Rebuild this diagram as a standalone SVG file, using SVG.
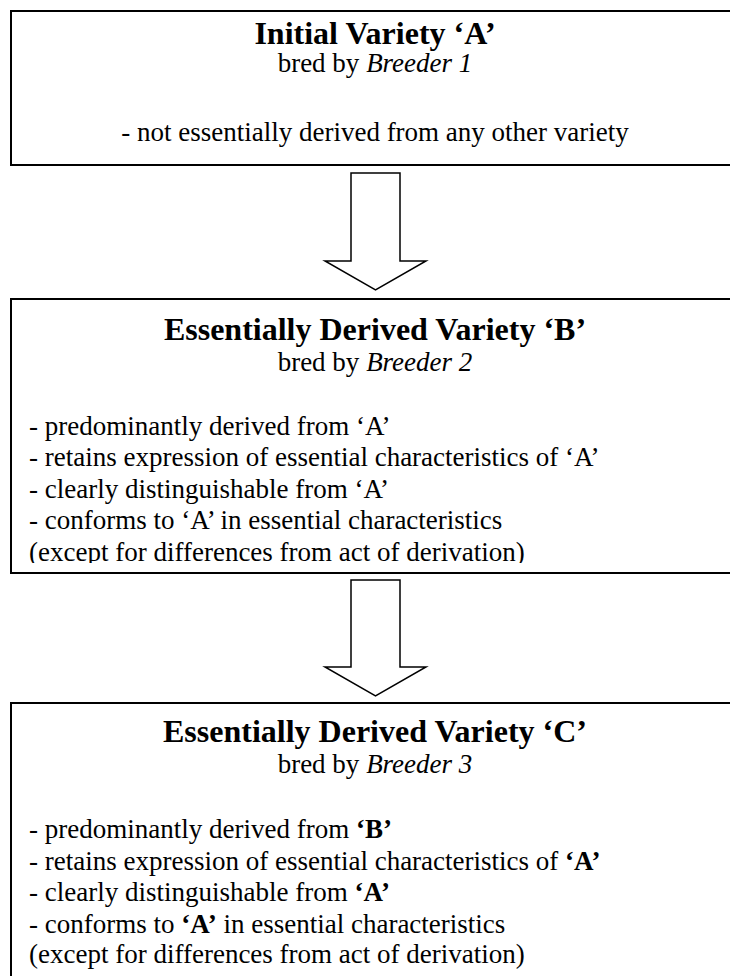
<svg xmlns="http://www.w3.org/2000/svg" width="730" height="976" viewBox="0 0 730 976">
<style>
.box{fill:#fff;stroke:#000;stroke-width:2}
.arrow{fill:#fff;stroke:#000;stroke-width:1.5;stroke-linejoin:miter}
text{font-family:"Liberation Serif","Times New Roman",serif;fill:#000}
.t{font-size:32px;font-weight:bold;text-anchor:middle}
.s{font-size:27px;text-anchor:middle}
.b{font-size:27px}
.i{font-style:italic}
.k{font-weight:bold}
</style>
<defs>
<clipPath id="clipB"><rect x="0" y="299" width="730" height="264"/></clipPath>
</defs>
<rect width="730" height="976" fill="#fff"/>
<g id="connectors">
<polygon class="arrow" points="351,173 400,173 400,261 426,261 375.5,290 325,261 351,261"/>
<polygon class="arrow" points="351,580 400,580 400,667 426,667 375.5,696 325,667 351,667"/>
</g>
<g id="nodeA">
<rect class="box" x="11" y="11" width="728" height="154"/>
<text class="t" x="375" y="44">Initial Variety ‘A’</text>
<text class="s" x="375" y="72">bred by <tspan class="i">Breeder 1</tspan></text>
<text class="s" x="375" y="141">- not essentially derived from any other variety</text>
</g>
<g id="nodeB">
<rect class="box" x="11" y="299" width="728" height="274"/>
<text class="t" x="375" y="340">Essentially Derived Variety ‘B’</text>
<text class="s" x="375" y="371">bred by <tspan class="i">Breeder 2</tspan></text>
<g clip-path="url(#clipB)">
<text class="b" x="29" y="435">- predominantly derived from ‘A’</text>
<text class="b" x="29" y="466">- retains expression of essential characteristics of ‘A’</text>
<text class="b" x="29" y="498">- clearly distinguishable from ‘A’</text>
<text class="b" x="29" y="529">- conforms to ‘A’ in essential characteristics</text>
<text class="b" x="29" y="561">(except for differences from act of derivation)</text>
</g>
</g>
<g id="nodeC">
<rect class="box" x="11" y="703" width="728" height="300"/>
<text class="t" x="375" y="742">Essentially Derived Variety ‘C’</text>
<text class="s" x="375" y="773">bred by <tspan class="i">Breeder 3</tspan></text>
<text class="b" x="29" y="838">- predominantly derived from <tspan class="k">‘B’</tspan></text>
<text class="b" x="29" y="870">- retains expression of essential characteristics of <tspan class="k">‘A’</tspan></text>
<text class="b" x="29" y="901">- clearly distinguishable from <tspan class="k">‘A’</tspan></text>
<text class="b" x="29" y="933">- conforms to <tspan class="k">‘A’</tspan> in essential characteristics</text>
<text class="b" x="29" y="963">(except for differences from act of derivation)</text>
</g>
</svg>
